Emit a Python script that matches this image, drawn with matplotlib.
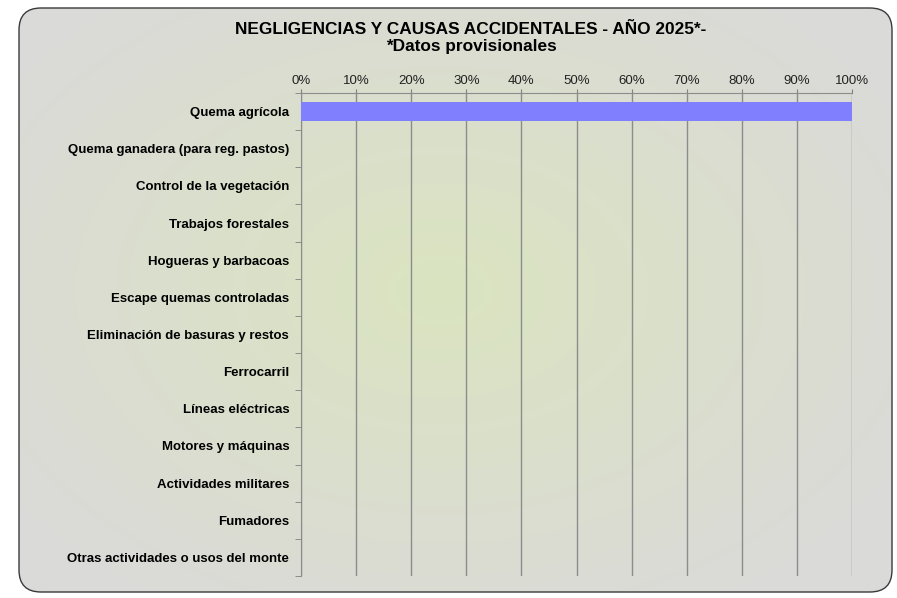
import matplotlib.pyplot as plt
import numpy as np
from matplotlib.patches import FancyBboxPatch
from matplotlib.ticker import FuncFormatter, FixedLocator

# Datos
categorias = ['Quema agrícola', 'Quema ganadera (para reg. pastos)', 'Control de la vegetación',
              'Trabajos forestales', 'Hogueras y barbacoas', 'Escape quemas controladas',
              'Eliminación de basuras y restos', 'Ferrocarril', 'Líneas eléctricas',
              'Motores y máquinas', 'Actividades militares', 'Fumadores',
              'Otras actividades o usos del monte']
porcentajes = [100, 0, 0, 0, 0, 0, 0, 0, 0, 0, 0, 0, 0]
ticks_x = [0, 10, 20, 30, 40, 50, 60, 70, 80, 90, 100]

plt.rcParams['font.family'] = ['Liberation Sans', 'DejaVu Sans']

W, H = 897, 598
fig = plt.figure(figsize=(W / 100, H / 100), dpi=100)

# Fondo con degradado radial dentro de un rectángulo redondeado
bg = fig.add_axes([0, 0, 1, 1])
bg.set_xlim(0, W)
bg.set_ylim(H, 0)
bg.axis('off')
yy, xx = np.mgrid[0:H, 0:W]
r = np.sqrt(((xx - 440) / 520.0) ** 2 + ((yy - 290) / 360.0) ** 2)
r = np.clip(r, 0, 1)
centro = np.array([219, 228, 192]) / 255.0
borde = np.array([218, 218, 216]) / 255.0
img = centro[None, None, :] * (1 - r[..., None]) + borde[None, None, :] * r[..., None]
im = bg.imshow(img, extent=(0, W, H, 0), zorder=0)
caja = FancyBboxPatch((19, 8), 873, 584, boxstyle='round,pad=0,rounding_size=22',
                      facecolor='none', edgecolor='#3a3a3a', linewidth=1.0, zorder=2)
bg.add_patch(caja)
im.set_clip_path(caja)

# Gráfico de barras
ax = fig.add_axes([301 / W, 1 - 576 / H, (852 - 301) / W, (576 - 93) / H])
ax.patch.set_alpha(0)
y = np.arange(len(categorias))
ax.barh(y, porcentajes, height=0.52, color='#8080ff', zorder=3)
ax.set_xlim(0, 100)
ax.set_ylim(len(categorias) - 0.5, -0.5)

ax.xaxis.tick_top()
ax.set_xticks(ticks_x)
ax.xaxis.set_major_formatter(FuncFormatter(lambda v, p: '%d%%' % v))
ax.tick_params(axis='x', length=3, color='#808080', labelsize=9.5, pad=1.5, labelcolor='#222222')
ax.grid(axis='x', color='#8c8c8c', linewidth=1.0, zorder=1)

ax.set_yticks(y)
ax.set_yticklabels(categorias, fontweight='bold', fontsize=9.5)
ax.yaxis.set_minor_locator(FixedLocator(np.arange(-0.5, len(categorias), 1)))
ax.tick_params(axis='y', which='major', length=0, pad=8.5)
ax.tick_params(axis='y', which='minor', length=4, color='#808080')

for s in ['right', 'bottom']:
    ax.spines[s].set_visible(False)
ax.spines['top'].set_color('#8c8c8c')
ax.spines['left'].set_color('#8c8c8c')

fig.text(471 / W, 1 - 29 / H, 'NEGLIGENCIAS Y CAUSAS ACCIDENTALES - AÑO 2025*-',
         ha='center', va='center', fontsize=12.4, fontweight='bold')
fig.text(471 / W, 1 - 46 / H, '*Datos provisionales',
         ha='center', va='center', fontsize=12.4, fontweight='bold')

fig.savefig('out.png', dpi=100)
